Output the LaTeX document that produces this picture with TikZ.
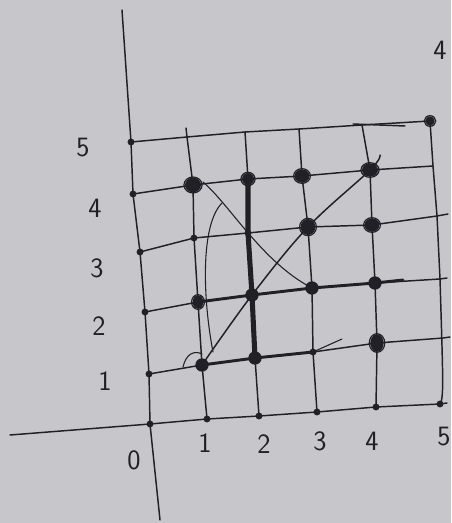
\documentclass[tikz,border=0pt]{standalone}
\usetikzlibrary{calc}
\definecolor{paper}{RGB}{198,198,203}
\definecolor{ink}{RGB}{32,32,38}
\tikzset{
  gridline/.style={draw=ink,line width=1.1pt,line cap=round,line join=round},
  thinline/.style={draw=ink,line width=0.8pt,line cap=round},
  heavy/.style={draw=ink,line width=3.8pt,line cap=round},
  medium/.style={draw=ink,line width=2.2pt,line cap=round},
  lbl/.style={text=ink,inner sep=0pt,font=\sffamily\fontsize{21}{21}\selectfont}
}
\begin{document}
\begin{tikzpicture}[x=0.75pt,y=-0.75pt]
\fill[paper] (0,0) rectangle (451,523);
\useasboundingbox (0,0) rectangle (451,523);
% grid points
\coordinate (p05) at (131,142); \coordinate (p15) at (187,137); \coordinate (p25) at (245,132);
\coordinate (p35) at (299,129); \coordinate (p45) at (362,125); \coordinate (p55) at (430,121);
\coordinate (p04) at (133,194); \coordinate (p14) at (193,185); \coordinate (p24) at (248,179);
\coordinate (p34) at (302,176); \coordinate (p44) at (370,170); \coordinate (p54) at (433,166);
\coordinate (p03) at (140,252); \coordinate (p13) at (194,238); \coordinate (p23) at (248,233);
\coordinate (p33) at (308,227); \coordinate (p43) at (372,225); \coordinate (p53) at (437,216);
\coordinate (p02) at (145,312); \coordinate (p12) at (198,302); \coordinate (p22) at (252,295);
\coordinate (p32) at (312,288); \coordinate (p42) at (375,283); \coordinate (p52) at (440,279);
\coordinate (p01) at (149,374); \coordinate (p11) at (202,365); \coordinate (p21) at (255,358);
\coordinate (p31) at (313,352); \coordinate (p41) at (377,343); \coordinate (p51) at (443,338);
\coordinate (p00) at (150,424); \coordinate (p10) at (207,419); \coordinate (p20) at (259,416);
\coordinate (p30) at (317,412); \coordinate (p40) at (376,407); \coordinate (p50) at (440,404);
% axis ends and line ends
\coordinate (ytop) at (122,10); \coordinate (ybot) at (160,520);
\coordinate (xleft) at (10,435); \coordinate (xright) at (447,403);
\coordinate (e3) at (448,214); \coordinate (e2) at (447,278); \coordinate (e1) at (450,337);
\coordinate (t1) at (186,128); \coordinate (d1) at (353,124); \coordinate (d2) at (405,126);
% axes
\draw[gridline] (ytop) -- (p05) -- (p04) -- (p03) -- (p02) -- (p01) -- (p00) -- (ybot);
\draw[gridline] (xleft) -- (p00) -- (p10) -- (p20) -- (p30) -- (p40) -- (p50) -- (xright);
% rows
\draw[gridline] (p05) -- (p15) -- (p25) -- (p35) -- (p45) -- (p55);
\draw[gridline] (d1) -- (d2);
\draw[gridline] (p04) -- (p14) -- (p24) -- (p34) -- (p44) -- (p54);
\draw[gridline] (p03) -- (p13) -- (p23) -- (p33) -- (p43) -- (p53) -- (e3);
\draw[gridline] (p02) -- (p12) -- (p22) -- (p32) -- (p42) -- (p52) -- (e2);
\draw[gridline] (p01) -- (p11) -- (p21) -- (p31) -- (p41) -- (p51) -- (e1);
% columns
\draw[gridline] (t1) -- (p15) -- (p14) -- (p13) -- (p12) -- (p11) -- (p10);
\draw[gridline] (p25) -- (p24) -- (p23) -- (p22) -- (p21) -- (p20);
\draw[gridline] (p35) -- (p34) -- (p33) -- (p32) -- (p31) -- (p30);
\draw[gridline] (p45) -- (p44) -- (p43) -- (p42) -- (p41) -- (p40);
\draw[gridline] (p55) -- (p54) -- (p53) -- (p52) .. controls (443,380) and (444,398) .. (p50);
% emphasised segments
\draw[heavy] (p24) -- (p23) -- (p22) -- (p21);
\draw[medium] (p12) -- (p22) -- (p32) -- (p42) -- (403,280);
\draw[medium] (p11) -- (p21) -- (p31);
\draw[thinline] (p31) -- (342,339);
% curves
\draw[gridline] plot[smooth,tension=0.6] coordinates {(p11) (p22) (p33) (p44) (380,155)};
\draw[thinline] (203,182) .. controls (230,205) and (262,262) .. (p32);
\draw[thinline] (213,352) .. controls (203,300) and (200,225) .. (222,203);
\draw[thinline] (183,367) .. controls (186,354) and (194,350) .. (202,354);
% big dots
\foreach \p in {p11,p21,p22,p32,p42}{\fill[ink] (\p) circle[radius=5pt];}
% scribbled circles
\foreach \p/\a/\b in {p14/6/5.5,p24/4.5/4.5,p34/5.5/5,p44/6/5,p33/5.5/6,p43/5.5/5,p41/5/6.5,p12/4/5,p55/3.5/3.5}{
  \fill[ink] (\p) ellipse[x radius=\a pt,y radius=\b pt];
  \draw[ink,line width=0.9pt] (\p) ellipse[x radius=\a pt+0.8pt,y radius=\b pt+0.5pt];}
% small dots
\foreach \p in {p05,p04,p03,p02,p01,p00,p13,p23,p31,p10,p20,p30,p40,p50}{\fill[ink] (\p) circle[radius=2.6pt];}
% labels
\node[lbl] (y5) at (83,148) {5};
\node[lbl] (y4) at (95,208) {4};
\node[lbl] (y3) at (97,268) {3};
\node[lbl] (y2) at (99,326) {2};
\node[lbl] (y1) at (105,381) {1};
\node[lbl] (x0) at (134,460) {0};
\node[lbl] (x1) at (205,443) {1};
\node[lbl] (x2) at (264,444) {2};
\node[lbl] (x3) at (320,441) {3};
\node[lbl] (x4) at (372,441) {4};
\node[lbl] (x5) at (444,437) {5};
\node[lbl] (corner) at (440,50) {4};
\end{tikzpicture}
\end{document}
